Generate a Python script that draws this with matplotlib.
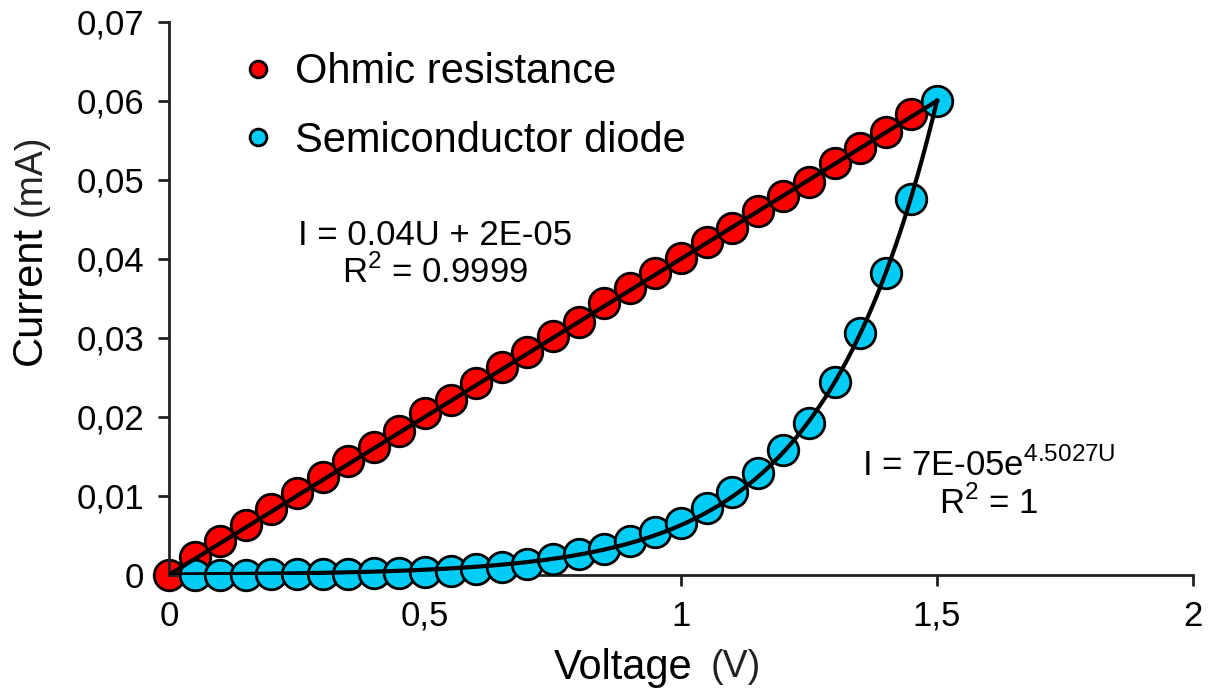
import numpy as np
import matplotlib
matplotlib.use('Agg')
import matplotlib.pyplot as plt
from matplotlib.ticker import FuncFormatter, MultipleLocator

plt.rcParams['font.family'] = ['Liberation Sans', 'DejaVu Sans']

# Ohmic resistance (red)
u_ohm = [0.00, 0.05, 0.10, 0.15, 0.20, 0.25, 0.30, 0.35, 0.40, 0.45,
         0.50, 0.55, 0.60, 0.65, 0.70, 0.75, 0.80, 0.85, 0.90, 0.95,
         1.00, 1.05, 1.10, 1.15, 1.20, 1.25, 1.30, 1.35, 1.40, 1.45]
i_ohm = [0.0000, 0.0023, 0.0043, 0.0063, 0.0083, 0.0104, 0.0124, 0.0144, 0.0162, 0.0182,
         0.0205, 0.0222, 0.0243, 0.0263, 0.0282, 0.0302, 0.0320, 0.0344, 0.0363, 0.0382,
         0.0401, 0.0421, 0.0439, 0.0461, 0.0480, 0.0498, 0.0521, 0.0540, 0.0561, 0.0583]

# Semiconductor diode (blue)
u_diode = [0.05, 0.10, 0.15, 0.20, 0.25, 0.30, 0.35, 0.40, 0.45, 0.50,
           0.55, 0.60, 0.65, 0.70, 0.75, 0.80, 0.85, 0.90, 0.95, 1.00,
           1.05, 1.10, 1.15, 1.20, 1.25, 1.30, 1.35, 1.40, 1.45, 1.50]
i_diode = [0.0000, 0.0000, 0.0000, 0.0001, 0.0001, 0.0001, 0.0001, 0.0002, 0.0003, 0.0004,
           0.0005, 0.0007, 0.0010, 0.0014, 0.0020, 0.0026, 0.0033, 0.0043, 0.0054, 0.0066,
           0.0085, 0.0105, 0.0129, 0.0158, 0.0193, 0.0244, 0.0306, 0.0382, 0.0476, 0.0600]

# trendline coefficients as shown on the chart
lin_a, lin_b = 0.04, 2e-05
exp_a, exp_k = 7e-05, 4.5027

fig = plt.figure(figsize=(12.08, 6.91), dpi=100)
ax = fig.add_axes([0.1399, 0.1679, 0.8477, 0.8003])

ax.plot(u_ohm, i_ohm, 'o', ms=22, mfc='#ff0000', mec='black', mew=2,
        label='Ohmic resistance', zorder=2, clip_on=False)
ax.plot(u_diode, i_diode, 'o', ms=22, mfc='#00ccf5', mec='black', mew=2,
        label='Semiconductor diode', zorder=3, clip_on=False)

# trendlines drawn over the markers
u_fit = np.linspace(0, 1.5, 200)
ax.plot(u_fit, lin_a * u_fit + lin_b, color='black', lw=3, zorder=4)
ax.plot(u_fit, exp_a * np.exp(exp_k * u_fit), color='black', lw=3, zorder=4)

ax.set_xlim(0, 2)
ax.set_ylim(0, 0.07)
ax.xaxis.set_major_locator(MultipleLocator(0.5))
ax.yaxis.set_major_locator(MultipleLocator(0.01))
fmt = FuncFormatter(lambda v, p: '0' if abs(v) < 1e-12 else ('%g' % round(v, 3)).replace('.', ','))
ax.xaxis.set_major_formatter(fmt)
ax.yaxis.set_major_formatter(fmt)

for s in ['top', 'right']:
    ax.spines[s].set_visible(False)
for s in ['left', 'bottom']:
    ax.spines[s].set_linewidth(2)
    ax.spines[s].set_color('#222222')
ax.tick_params(direction='out', length=8, width=2, labelsize=25, color='#222222', pad=10)

# axis titles: name in larger type, unit a bit smaller
ax.text(0.443, -0.168, 'Voltage', fontsize=30, ha='center', va='center',
        transform=ax.transAxes)
ax.text(0.553, -0.166, '(V)', fontsize=27, ha='center', va='center',
        color='#222222', transform=ax.transAxes)
ax.text(-0.136, 0.505, 'Current', fontsize=30, ha='center', va='center',
        rotation=90, transform=ax.transAxes)
ax.text(-0.135, 0.723, '(mA)', fontsize=27, ha='center', va='center',
        rotation=90, color='#222222', transform=ax.transAxes)

leg = ax.legend(loc='upper left', bbox_to_anchor=(0.038, 1.013), frameon=False,
                fontsize=30, markerscale=0.55, handlelength=0.6, handletextpad=0.6,
                labelspacing=0.68)

ax.text(0.52, 0.0406, 'I = 0.04U + 2E-05\nR$^\\mathregular{2}$ = 0.9999', fontsize=25,
        ha='center', va='center', linespacing=1.1)
ax.text(1.6, 0.0115, 'I = 7E-05e$^\\mathregular{4.5027U}$\nR$^\\mathregular{2}$ = 1',
        fontsize=25, ha='center', va='center', linespacing=1.1)

fig.savefig('out.png', dpi=100)
